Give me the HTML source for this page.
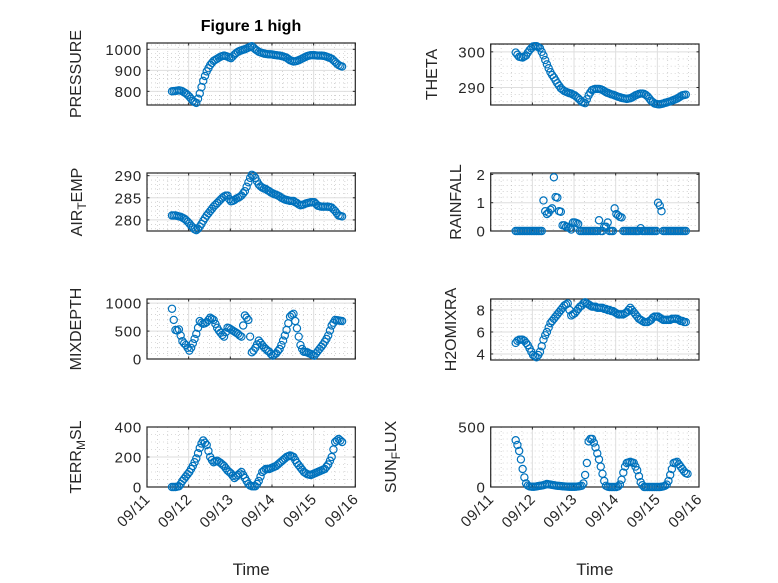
<!DOCTYPE html>
<html><head><meta charset="utf-8">
<style>
html,body{margin:0;padding:0;background:#fff;}
svg{display:block;font-family:"Liberation Sans","DejaVu Sans",sans-serif;}
</style></head>
<body>
<svg id="fig" width="778" height="583" viewBox="0 0 778 583" xmlns="http://www.w3.org/2000/svg">
<rect width="778" height="583" fill="#fff"/>
<text x="251" y="31" text-anchor="middle" font-size="16" font-weight="bold" fill="#000">Figure 1 high</text>
</svg>
<script>
// shared time axis: days after 09/11 00:00, hourly samples
const xTickLabels = ["09/11","09/12","09/13","09/14","09/15","09/16"];
const tStart = 0.6;
const tStep = 1/24;
const pressureVals = [800,801,802,803,805,803,800,795,790,783,775,765,755,749,745,765,790,820,850,873,895,910,925,935,945,950,955,960,965,968,970,968,965,961,958,966,975,982,988,992,995,998,1000,1004,1008,1012,1015,1008,1000,994,988,985,982,980,978,977,976,976,975,973,972,971,970,968,966,963,960,954,948,945,942,943,945,948,952,956,960,964,968,970,972,972,972,971,970,970,970,969,968,965,962,959,955,948,940,932,925,921,918];
const airTempVals = [281,281,281,280.9,280.8,280.7,280.5,280.3,280,279.6,279.2,278.7,278.3,277.9,277.7,278,278.5,279.1,279.8,280.4,281,281.5,282,282.5,283,283.4,283.8,284.2,284.6,285,285.3,285.5,285.5,284.7,284.2,284.3,284.5,284.8,285,285.2,285.5,286,286.5,287.5,288.5,289.5,290.2,290,289.5,288.7,288,287.6,287.3,287.1,287,286.7,286.5,286.2,286,285.8,285.7,285.5,285.3,285,284.8,284.6,284.5,284.4,284.3,284.3,284.3,284,283.8,283.5,283.3,283.4,283.5,283.7,283.8,283.9,284,284,284,283.6,283.2,283.1,283,283,283,283,283,282.9,282.8,282.4,282,281.5,281,280.9,280.8];
const mixDepthVals = [900,700,520,510,530,420,320,280,250,200,150,200,280,360,450,560,680,650,630,640,660,700,740,720,700,630,560,510,470,430,400,480,560,550,530,510,490,470,450,420,400,600,780,740,700,400,120,150,200,260,330,290,250,210,180,150,130,90,60,80,100,140,180,250,330,420,520,640,760,790,810,680,550,400,250,180,130,125,120,100,90,70,60,100,140,180,220,260,310,360,420,510,600,650,700,695,690,685,680];
const terrMslVals = [0,0,0,2,5,20,40,55,70,85,100,120,140,165,190,225,260,290,310,295,280,240,200,180,165,170,175,168,160,150,140,125,110,100,90,75,60,70,80,90,100,80,60,40,20,10,5,5,5,20,40,70,100,110,120,120,120,125,130,135,140,150,160,170,180,190,200,205,210,205,200,180,160,145,130,115,100,92,85,82,80,85,90,95,100,105,110,115,120,135,150,175,200,250,300,310,320,310,300];
const thetaVals = [299.8,299.2,298.6,298.5,298.4,298.7,299,299.8,300.5,301,301.5,301.6,301.6,301.3,301,300,299,297.7,296.5,295.4,294.3,293.5,292.8,292,291.2,290.5,289.8,289.4,289,288.8,288.6,288.4,288.3,288,287.8,287.4,287,286.5,286,285.8,285.6,286.7,287.8,288.6,289.3,289.5,289.6,289.6,289.6,289.5,289.3,289,288.7,288.5,288.3,288.1,288,287.8,287.6,287.4,287.3,287.1,287,286.9,286.8,286.9,287,287.2,287.5,287.8,288,288.2,288.3,288.3,288.2,287.9,287.5,286.9,286.3,285.9,285.5,285.4,285.3,285.3,285.4,285.5,285.7,285.8,286,286.1,286.3,286.5,286.7,286.9,287.2,287.5,287.8,287.9,288];
const rainVals = [0,0,0,0,0,0,0,0,0,0,0,0,0,0,0,0,1.08,0.7,0.6,0.65,0.75,0.8,1.9,1.2,1.18,0.7,0.68,0.2,0.2,0.15,0.15,0.1,0.05,0.3,0.3,0.28,0.25,0,0,0,0,0,0,0,0,0,0,0,0.38,0,0,0.15,0.15,0.3,0,0,0,0.8,0.6,0.55,0.5,0.48,0,0,0,0,0,0,0,0,0,0,0.1,0,0,0,0,0,0,0,0,0,1.0,0.9,0.7,0,0,0,0,0,0,0,0,0,0,0,0,0,0];
const h2oVals = [5,5.2,5.3,5.3,5.3,5.2,5,4.8,4.5,4.2,3.9,3.8,3.7,3.9,4.2,4.7,5.3,5.7,6,6.4,6.8,7,7.2,7.4,7.6,7.8,8,8.2,8.4,8.5,8.6,8,7.5,7.6,7.7,7.9,8.1,8.3,8.4,8.6,8.7,8.6,8.5,8.4,8.3,8.3,8.3,8.2,8.2,8.2,8.2,8.1,8.1,8,8,7.9,7.9,7.8,7.7,7.6,7.6,7.6,7.6,7.7,7.8,8,8.2,8,7.8,7.6,7.4,7.2,7.1,7,6.9,6.9,6.9,7,7.1,7.3,7.4,7.4,7.4,7.3,7.2,7.1,7.1,7.1,7.1,7.1,7.2,7.2,7.2,7.2,7.1,7,7,6.9,6.9];
const sunFluxVals = [390,350,300,230,150,80,30,12,5,3,2,3,5,8,10,12,15,20,25,22,20,17,15,12,10,9,8,6,5,4,3,2,2,2,2,3,5,7,10,30,100,200,380,400,400,370,330,280,230,170,110,50,10,3,0,0,0,0,0,5,20,60,120,170,200,205,210,205,200,170,140,90,40,15,0,0,0,0,0,0,0,0,0,0,2,5,10,20,50,100,150,200,205,210,190,170,150,130,115,110];
const pressureTicks = [800,900,1000];
const airTempTicks = [280,285,290];
const mixDepthTicks = [0,500,1000];
const terrMslTicks = [0,200,400];
const thetaTicks = [290,300];
const rainTicks = [0,1,2];
const h2oTicks = [4,6,8];
const sunFluxTicks = [0,500];

const NS = "http://www.w3.org/2000/svg";
const svg = document.getElementById('fig');
function mk(tag, attrs, parent){
  const e = document.createElementNS(NS, tag);
  for (const k in attrs) e.setAttribute(k, attrs[k]);
  (parent||svg).appendChild(e);
  return e;
}
const panels = [
  {name:'pressure', x:147, y:43, h:62, ymin:735, ymax:1030, vals:pressureVals, ticks:pressureTicks, minorStep:20, lab:['PRESSURE'], lx:77, xlab:false},
  {name:'air-temp', x:147, y:173, h:58, ymin:277.5, ymax:290.6, vals:airTempVals, ticks:airTempTicks, minorStep:1, lab:['AIR','T','EMP'], lx:78, xlab:false},
  {name:'mixdepth', x:147, y:299, h:60, ymin:0, ymax:1075, vals:mixDepthVals, ticks:mixDepthTicks, minorStep:100, lab:['MIXDEPTH'], lx:77, xlab:false},
  {name:'terr-msl', x:147, y:427, h:60, ymin:0, ymax:400, vals:terrMslVals, ticks:terrMslTicks, minorStep:50, lab:['TERR','M','SL'], lx:77, xlab:true},
  {name:'theta', x:490.7, y:44, h:61, ymin:285.1, ymax:302.2, vals:thetaVals, ticks:thetaTicks, minorStep:2, lab:['THETA'], lx:433, xlab:false},
  {name:'rainfall', x:490.7, y:173, h:58, ymin:0, ymax:2.05, vals:rainVals, ticks:rainTicks, minorStep:0.2, lab:['RAINFALL'], lx:457, xlab:false},
  {name:'h2omixra', x:490.7, y:299, h:61, ymin:3.45, ymax:9.0, vals:h2oVals, ticks:h2oTicks, minorStep:0.4, lab:['H2OMIXRA'], lx:452, xlab:false},
  {name:'sun-flux', x:490.7, y:427, h:60, ymin:0, ymax:500, vals:sunFluxVals, ticks:sunFluxTicks, minorStep:50, lab:['SUN','F','LUX'], lx:392, xlab:true},
];
const W = 208.3;
panels.forEach(p=>{
  const g = mk('g', {});
  
  
  const xs = t => p.x + t/5*W;
  const ys = v => p.y + p.h - (v-p.ymin)/(p.ymax-p.ymin)*p.h;
  mk('rect',{x:p.x,y:p.y,width:W,height:p.h,fill:'#fff'},g);
  for(let t=0.25;t<5;t+=0.25){ if(Math.abs(t-Math.round(t))<1e-6) continue;
    mk('line',{x1:xs(t),x2:xs(t),y1:p.y,y2:p.y+p.h,stroke:'#b8b8b8','stroke-width':0.6,'stroke-dasharray':'1 3'},g);}
  for(let v=Math.ceil(p.ymin/p.minorStep)*p.minorStep; v<p.ymax; v+=p.minorStep){
    if(p.ticks.some(tv=>Math.abs(tv-v)<1e-6)) continue;
    mk('line',{x1:p.x,x2:p.x+W,y1:ys(v),y2:ys(v),stroke:'#b8b8b8','stroke-width':0.6,'stroke-dasharray':'1 3'},g);}
  for(let d=1;d<5;d++) mk('line',{x1:xs(d),x2:xs(d),y1:p.y,y2:p.y+p.h,stroke:'#dedede','stroke-width':1},g);
  p.ticks.forEach(v=>{ mk('line',{x1:p.x,x2:p.x+W,y1:ys(v),y2:ys(v),stroke:'#dedede','stroke-width':1},g);
    const tl = mk('text',{x:p.x-5,y:ys(v)+5.5,'text-anchor':'end','font-size':15,'letter-spacing':0.8,fill:'#262626'},g);
    
    
    tl.textContent = v;
    mk('line',{x1:p.x,x2:p.x+2.5,y1:ys(v),y2:ys(v),stroke:'#262626'},g);
    mk('line',{x1:p.x+W,x2:p.x+W-2.5,y1:ys(v),y2:ys(v),stroke:'#262626'},g);
  });
  for(let d=0;d<=5;d++){
    mk('line',{x1:xs(d),x2:xs(d),y1:p.y+p.h,y2:p.y+p.h-2.5,stroke:'#262626'},g);
    mk('line',{x1:xs(d),x2:xs(d),y1:p.y,y2:p.y+2.5,stroke:'#262626'},g);
    if(p.xlab){
      const tx = xs(d)+4, ty = p.y+p.h+13;
      const xl = mk('text',{x:tx,y:ty,'text-anchor':'end','font-size':15,'letter-spacing':0.6,fill:'#262626',transform:`rotate(-45 ${tx} ${ty})`},g);
      
      
      xl.textContent = xTickLabels[d];
    }
  }
  if(p.xlab){
    const xt = mk('text',{x:p.x+W/2,y:575,'text-anchor':'middle','font-size':17,fill:'#262626'},g);
    
    
    xt.textContent = 'Time';
  }
  mk('rect',{x:p.x,y:p.y,width:W,height:p.h,fill:'none',stroke:'#262626','stroke-width':1.2},g);
  const cy = p.y + p.h/2;
  const yl = mk('text',{x:p.lx,y:cy,'text-anchor':'middle','font-size':16,fill:'#262626',transform:`rotate(-90 ${p.lx} ${cy})`,'dominant-baseline':'middle'},g);
  
  
  if(p.lab.length===1){ yl.textContent = p.lab[0]; }
  else {
    const a = mk('tspan',{},yl); a.textContent = p.lab[0];
    const b = mk('tspan',{'font-size':12,dy:5},yl); b.textContent = p.lab[1];
    const c = mk('tspan',{dy:-5},yl); c.textContent = p.lab[2];
  }
  p.vals.forEach((v,i)=>{
    const c = mk('circle',{cx:xs(tStart+i*tStep),cy:ys(v),r:3.6,fill:'none',stroke:'#0072BD','stroke-width':1.2},g);
    
    
  });
});
</script>
</body></html>
